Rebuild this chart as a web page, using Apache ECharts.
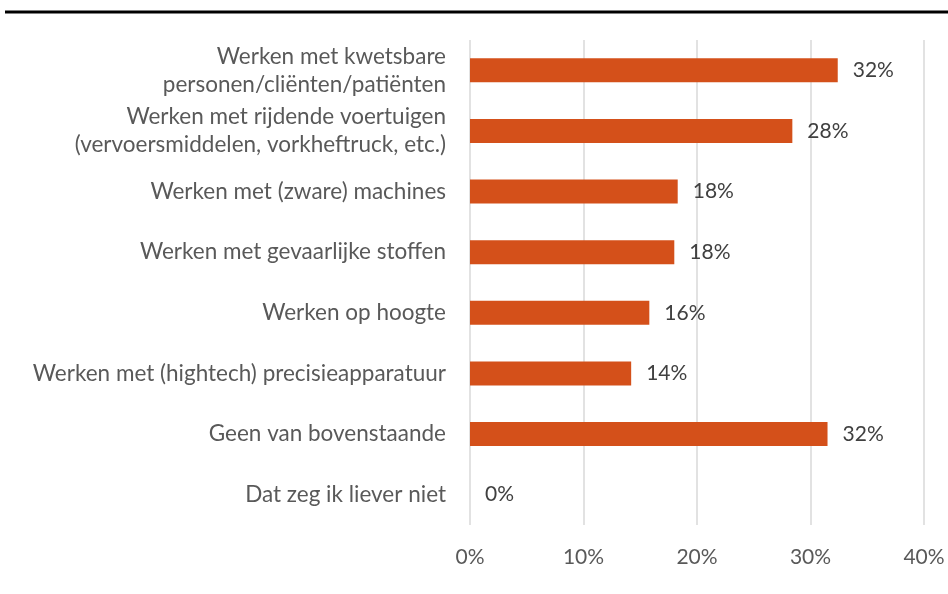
<!DOCTYPE html>
<html>
<head>
<meta charset="utf-8">
<script src="https://cdn.jsdelivr.net/npm/echarts@6/dist/echarts.min.js"></script>
<style>
    html, body { margin: 0; padding: 0; background: #fff; }
    #chart { width: 948px; height: 594px; }
</style>
</head>
<body>
<div id="chart"></div>
<script>
    // categorieen, van boven naar onder
    const categories = [
        'Werken met kwetsbare\npersonen/cliënten/patiënten',
        'Werken met rijdende voertuigen\n(vervoersmiddelen, vorkheftruck, etc.)',
        'Werken met (zware) machines',
        'Werken met gevaarlijke stoffen',
        'Werken op hoogte',
        'Werken met (hightech) precisieapparatuur',
        'Geen van bovenstaande',
        'Dat zeg ik liever niet'
    ]
    // percentages zoals in de grafiek (afgerond in de labels)
    const values = [32.4, 28.4, 18.3, 18.0, 15.8, 14.2, 31.5, 0]
    const tickLabels = ['0%', '10%', '20%', '30%', '40%']

    const chart = echarts.init(document.getElementById('chart'))
    let option = {
        backgroundColor: '#fff',
        animation: false,
        textStyle: { fontFamily: 'Lato' },
        grid: {
            left: 470,
            right: 24,
            top: 40,
            bottom: 69,
            containLabel: false
        },
        graphic: [{
            type: 'line',
            shape: { x1: 5, y1: 12, x2: 948, y2: 12 },
            style: { stroke: '#000', lineWidth: 3 }
        }],
        xAxis: {
            type: 'value',
            min: 0,
            max: 40,
            interval: 10,
            axisLine: { show: false },
            axisTick: { show: false },
            splitLine: { lineStyle: { color: '#d9d9d9', width: 1.5 } },
            axisLabel: {
                color: '#595959',
                fontSize: 21,
                margin: 22,
                formatter: function (v) { return tickLabels[v / 10] }
            }
        },
        yAxis: {
            type: 'category',
            inverse: true,
            data: categories,
            axisLine: { show: false },
            axisTick: { show: false },
            axisLabel: {
                color: '#595959',
                fontSize: 22.5,
                lineHeight: 28,
                margin: 24,
                align: 'right',
                padding: [4, 0, 0, 0]
            }
        },
        series: [{
            type: 'bar',
            data: values,
            barWidth: 24,
            itemStyle: { color: '#d4501a' },
            label: {
                show: true,
                position: 'right',
                distance: 15,
                color: '#404040',
                fontSize: 21,
                formatter: function (p) { return Math.round(p.value) + '%' }
            }
        }]
    }
    chart.setOption(option)
</script>
</body>
</html>
